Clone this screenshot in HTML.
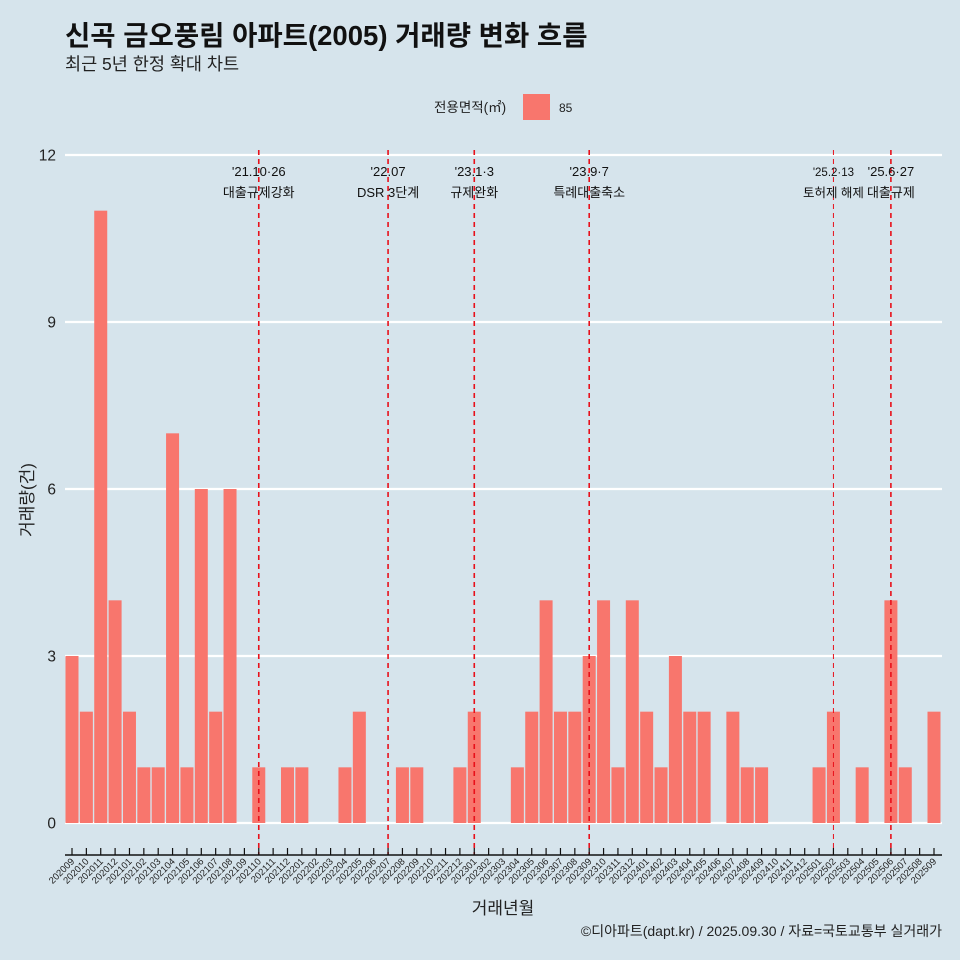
<!DOCTYPE html>
<html><head><meta charset="utf-8"><style>
body{margin:0;background:#d6e4ec;}
svg{display:block;font-family:"Liberation Sans","Noto Sans CJK KR",sans-serif;}
</style></head><body>
<svg id="c" width="960" height="960">
<rect width="960" height="960" fill="#d6e4ec"/>
<text x="65" y="45" font-size="27.5" font-weight="bold" fill="#111">신곡 금오풍림 아파트(2005) 거래량 변화 흐름</text>
<text x="65" y="70" font-size="17.5" fill="#222">최근 5년 한정 확대 차트</text>
<text x="434" y="112" font-size="13.5" fill="#222">전용면적(㎡)</text>
<rect x="523" y="94" width="27" height="26" fill="#f8766d"/>
<text x="559" y="112" font-size="12" fill="#222">85</text>
<g id="grid"></g><g id="bars"></g><g id="ann"></g><g id="xaxis"></g>
<text x="33" y="500" font-size="17" fill="#222" text-anchor="middle" transform="rotate(-90 33 500)">거래량(건)</text>
<text x="503" y="914" font-size="17" fill="#222" text-anchor="middle">거래년월</text>
<text x="942" y="936" font-size="14" fill="#222" text-anchor="end">©디아파트(dapt.kr) / 2025.09.30 / 자료=국토교통부 실거래가</text>
</svg>
<script>
const months=["202009","202010","202011","202012","202101","202102","202103","202104","202105","202106","202107","202108","202109","202110","202111","202112","202201","202202","202203","202204","202205","202206","202207","202208","202209","202210","202211","202212","202301","202302","202303","202304","202305","202306","202307","202308","202309","202310","202311","202312","202401","202402","202403","202404","202405","202406","202407","202408","202409","202410","202411","202412","202501","202502","202503","202504","202505","202506","202507","202508","202509"];
const counts=[3,2,11,4,2,1,1,7,1,6,2,6,0,1,0,1,1,0,0,1,2,0,0,1,1,0,0,1,2,0,0,1,2,4,2,2,3,4,1,4,2,1,3,2,2,0,2,1,1,0,0,0,1,2,0,1,0,4,1,0,2];
const yTicks=[0,3,6,9,12];
const annMonths=["202110","202207","202301","202309","202502","202506"];
const annDates=["'21.10·26","'22.07","'23.1·3","'23.9·7","'25.2·13","'25.6·27"];
const annTexts=["대출규제강화","DSR 3단계","규제완화","특례대출축소","토허제 해제","대출규제"];
const NS="http://www.w3.org/2000/svg";
const x0=72,step=(934-72)/60;
const xs=i=>x0+i*step;
const ys=v=>823-v*(823-155)/12;
function mk(t,a,p){const e=document.createElementNS(NS,t);for(const k in a)e.setAttribute(k,a[k]);document.getElementById(p).appendChild(e);return e;}
yTicks.forEach(v=>{
 const l=mk('line',{x1:65,x2:942,y1:ys(v),y2:ys(v),stroke:'#fff','stroke-width':2.2},'grid');
 
 
 const t=mk('text',{x:56,y:ys(v)+5.5,'font-size':15.5,fill:'#222','text-anchor':'end'},'grid');
 t.textContent=v;
 
 
});
counts.forEach((v,i)=>{
 const r=mk('rect',{x:xs(i)-6.5,y:ys(v),width:13,height:ys(0)-ys(v),fill:'#f8766d'},'bars');
 
 
});
annMonths.forEach((m,j)=>{
 const i=months.indexOf(m),x=xs(i);
 const l=mk('line',{x1:x,x2:x,y1:150,y2:855,stroke:'#e8101a','stroke-width':j==4?1:1.6,'stroke-dasharray':'5,4'},'ann');
 
 
 const d=mk('text',{x:x,y:176,'font-size':j==4?11.5:13,fill:'#111','text-anchor':'middle'},'ann');
 d.textContent=annDates[j];
 
 
 const t=mk('text',{x:x,y:197,'font-size':j==4?12.5:13,fill:'#111','text-anchor':'middle'},'ann');
 t.textContent=annTexts[j];
 
 
});
const ax=mk('line',{x1:65,x2:942,y1:855,y2:855,stroke:'#111','stroke-width':1.5},'xaxis');


months.forEach((m,i)=>{
 const x=xs(i);
 const tk=mk('line',{x1:x,x2:x,y1:848,y2:855,stroke:'#111','stroke-width':1.2},'xaxis');
 
 
 const t=mk('text',{x:x+3,y:862,'font-size':9.5,fill:'#222','text-anchor':'end',transform:`rotate(-45 ${x+3} 862)`},'xaxis');
 t.textContent=m;
 
 
});
</script>
</body></html>
